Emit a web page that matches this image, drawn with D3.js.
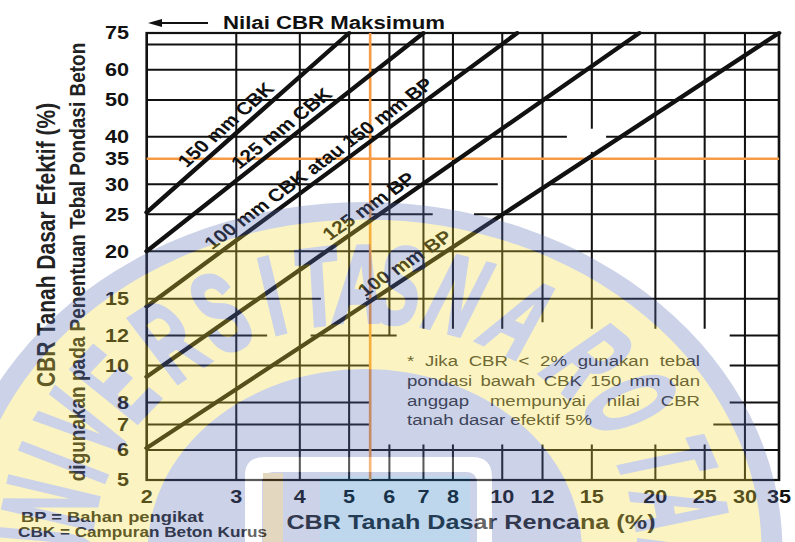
<!DOCTYPE html>
<html>
<head>
<meta charset="utf-8">
<script src="https://cdnjs.cloudflare.com/ajax/libs/d3/7.8.5/d3.min.js"></script>
<style>
  body { margin: 0; background: #fff; }
  svg { display: block; }
</style>
</head>
<body>
<div class="chart"></div>
<script>
// ---- data ----
var xTicks = [2, 3, 4, 5, 6, 7, 8, 10, 12, 15, 20, 25, 30, 35];
var yTicks = [5, 6, 7, 8, 10, 12, 15, 20, 25, 30, 35, 40, 50, 60, 75];

var lineNames = ['150 mm CBK', '125 mm CBK', '100 mm CBK atau 150 mm BP', '125 mm BP', '100 mm BP'];
var lineStart = [[2, 25.3], [2, 20], [2, 14.3], [2, 9.35], [2, 6.07]];
var lineEnd = [[5, 75], [7, 75], [10.7, 75], [18.6, 75], [35, 75]];
var labelAtCbr = [3.0, 3.85, 4.55, 5.7, 6.7];

// partial grid: [value, from, to] in data units
var gridRows = [
	[70, 2, 35], [60, 2, 35], [50, 2, 35],
	[40, 2, 13.4], [40, 16, 35],
	[30, 2, 9.8], [30, 12.4, 35],
	[25, 2, 3], [25, 5.5, 7.3], [25, 8.8, 35],
	[20, 2, 35],
	[15, 2, 4.4], [15, 5.4, 35],
	[12, 2, 3.45], [12, 4.2, 6.2], [12, 28, 35],
	[10, 2, 5.5], [10, 28, 35],
	[8, 2, 5.5], [8, 28, 35],
	[7, 2, 5.5], [7, 26, 35],
	[6, 2, 35]
];
var gridCols = [
	[3, 5, 75], [4, 5, 75], [5, 5, 75],
	[6, 12, 75], [6, 5, 6.2],
	[7, 12.5, 75], [7, 5, 6.2],
	[8, 12.5, 75], [8, 5, 6.2],
	[10, 12.5, 75], [10, 5, 6.2],
	[12, 13, 75], [12, 5, 6.2],
	[15, 42, 75], [15, 12.5, 36.5], [15, 5, 6.2],
	[20, 12.5, 75], [20, 5, 6.2],
	[25, 12.5, 75], [25, 5, 6.2],
	[30, 5, 75]
];
var designCbr = 5.5, effectiveCbr = 35;

var noteLines = [
	'* Jika CBR < 2% gunakan tebal',
	'pondasi bawah CBK 150 mm dan',
	'anggap mempunyai nilai CBR',
	'tanah dasar efektif 5%'
];
var legendLines = ['BP = Bahan pengikat', 'CBK = Campuran Beton Kurus'];
var watermarkText = 'UNIVERSITAS NAROTAMA';

// ---- drawing ----
var W = 795, H = 542, stretch = 1.2;
var ink = '#111', orange = '#f59a45', font = 'Liberation Sans, Arial, sans-serif';

var svg = d3.select('.chart').append('svg')
	.attr('width', W)
	.attr('height', H)
	.attr('font-family', font);

// the scan is stretched sideways, so draw in a squeezed frame
var g = svg.append('g').attr('transform', 'scale(' + stretch + ',1)');

var x = d3.scaleLog().domain([2, 35]).range([146.7 / stretch, 779 / stretch]);
var y = d3.scaleLog().domain([5, 75]).range([480, 33]);

// grid
g.append('g').selectAll('line').data(gridRows).join('line')
	.attr('x1', function(d) { return x(d[1]); })
	.attr('x2', function(d) { return x(d[2]); })
	.attr('y1', function(d) { return y(d[0]); })
	.attr('y2', function(d) { return y(d[0]); })
	.attr('stroke', ink).attr('stroke-width', 2);
g.append('g').selectAll('line').data(gridCols).join('line')
	.attr('x1', function(d) { return x(d[0]); })
	.attr('x2', function(d) { return x(d[0]); })
	.attr('y1', function(d) { return y(d[1]); })
	.attr('y2', function(d) { return y(d[2]); })
	.attr('stroke', ink).attr('stroke-width', 1.7);

// frame
g.append('rect')
	.attr('x', x(2)).attr('y', y(75))
	.attr('width', x(35) - x(2)).attr('height', y(5) - y(75))
	.attr('fill', 'none').attr('stroke', ink).attr('stroke-width', 2.2);

// orange guide lines
g.append('line')
	.attr('x1', x(designCbr)).attr('x2', x(designCbr))
	.attr('y1', y(75)).attr('y2', y(5))
	.attr('stroke', orange).attr('stroke-width', 2.2);
g.append('line')
	.attr('x1', x(2)).attr('x2', x(35))
	.attr('y1', y(effectiveCbr)).attr('y2', y(effectiveCbr))
	.attr('stroke', orange).attr('stroke-width', 2.6);

// design lines (straight on log-log paper)
lineNames.forEach(function(name, i) {
	var a = lineStart[i], b = lineEnd[i];
	g.append('line')
		.attr('x1', x(a[0])).attr('y1', y(a[1]))
		.attr('x2', x(b[0])).attr('y2', y(b[1]))
		.attr('stroke', ink).attr('stroke-width', 4)
		.attr('stroke-linecap', 'round');
	var k = Math.log(b[1] / a[1]) / Math.log(b[0] / a[0]);
	var cx = labelAtCbr[i], cy = a[1] * Math.pow(cx / a[0], k);
	var ang = Math.atan2(y(b[1]) - y(a[1]), x(b[0]) - x(a[0])) * 180 / Math.PI;
	g.append('text')
		.attr('transform', 'translate(' + x(cx) + ',' + y(cy) + ') rotate(' + ang + ')')
		.attr('dy', -6)
		.attr('text-anchor', 'middle')
		.attr('font-size', 17.5)
		.attr('font-weight', 'bold')
		.attr('fill', ink)
		.text(name);
});

// tick labels
g.append('g').selectAll('text').data(yTicks).join('text')
	.attr('x', 129 / stretch)
	.attr('y', function(d) { return y(d); })
	.attr('dy', '0.36em')
	.attr('text-anchor', 'end')
	.attr('font-size', 18).attr('font-weight', 'bold').attr('fill', ink)
	.text(function(d) { return d; });
g.append('g').selectAll('text').data(xTicks).join('text')
	.attr('x', function(d) { return x(d); })
	.attr('y', 503)
	.attr('text-anchor', 'middle')
	.attr('font-size', 18).attr('font-weight', 'bold').attr('fill', ink)
	.text(function(d) { return d; });

// axis titles
g.append('text')
	.attr('x', 471 / stretch).attr('y', 529)
	.attr('text-anchor', 'middle')
	.attr('font-size', 21).attr('font-weight', 'bold').attr('fill', '#222')
	.text('CBR Tanah Dasar Rencana (%)');
g.append('text')
	.attr('transform', 'translate(' + (55 / stretch) + ',245) rotate(-90)')
	.attr('text-anchor', 'middle')
	.attr('font-size', 21).attr('font-weight', 'bold').attr('fill', '#222')
	.text('CBR Tanah Dasar Efektif (%)');
g.append('text')
	.attr('transform', 'translate(' + (85 / stretch) + ',262) rotate(-90)')
	.attr('text-anchor', 'middle')
	.attr('font-size', 19).attr('font-weight', 'bold').attr('fill', '#222')
	.text('digunakan pada Penentuan Tebal Pondasi Beton');

// top note with arrow
g.append('line')
	.attr('x1', 153 / stretch).attr('x2', 208 / stretch)
	.attr('y1', 23).attr('y2', 23)
	.attr('stroke', ink).attr('stroke-width', 2.2);
g.append('path')
	.attr('d', 'M' + (148 / stretch) + ',23 l' + (14 / stretch) + ',-4 v8 z')
	.attr('fill', ink);
g.append('text')
	.attr('x', 223 / stretch).attr('y', 29)
	.attr('font-size', 18.5).attr('font-weight', 'bold').attr('fill', ink)
	.text('Nilai CBR Maksimum');

// legend
g.append('g').selectAll('text').data(legendLines).join('text')
	.attr('x', function(d, i) { return (i ? 18 : 21) / stretch; })
	.attr('y', function(d, i) { return 522 + i * 15; })
	.attr('font-size', function(d, i) { return i ? 14.3 : 15.3; })
	.attr('font-weight', 'bold').attr('fill', '#222')
	.text(function(d) { return d; });

// justified footnote
var noteLeft = 407 / stretch, noteRight = 700 / stretch;
noteLines.forEach(function(line, i) {
	var words = line.split(' ');
	var row = g.append('g');
	var texts = words.map(function(w) {
		return row.append('text')
			.attr('font-size', 15.5).attr('fill', '#333')
			.attr('y', 366 + i * 19.8)
			.text(w);
	});
	var lens = texts.map(function(t) { return t.node().getComputedTextLength(); });
	var total = d3.sum(lens);
	var last = i === noteLines.length - 1;
	var gap = last ? 4.3 : (noteRight - noteLeft - total) / (words.length - 1);
	var pos = noteLeft;
	texts.forEach(function(t, j) {
		t.attr('x', pos);
		pos += lens[j] + gap;
	});
});

// watermark seal, laid over the chart with low opacity
var wm = svg.append('g').attr('opacity', 0.3).attr('pointer-events', 'none');
var wmc = wm.append('g').attr('transform', 'scale(' + stretch + ',1)');
var cx0 = 304, cy0 = 550, R = 348, sealBlue = '#586cb2';
wmc.append('circle').attr('cx', cx0).attr('cy', cy0).attr('r', R).attr('fill', sealBlue);
wmc.append('circle').attr('cx', cx0).attr('cy', cy0).attr('r', R * 0.95).attr('fill', '#f5de37');
wmc.append('circle').attr('cx', cx0).attr('cy', cy0).attr('r', R * 0.52).attr('fill', sealBlue);
// letter angles around the seal (degrees from the top), spaces skipped
var sealAngles = [-90, -80, -71, -62, -51.7, -38.2, -27, -17.1, -8.7, -1.2, 6.2, null,
	16.8, 29.3, 44.4, 56.1, 70.1, 81, 93, 105];
watermarkText.split('').forEach(function(c, i) {
	if (c === ' ') return;
	wmc.append('text')
		.attr('transform', 'translate(' + cx0 + ',' + cy0 + ') rotate(' + sealAngles[i] + ') translate(0,' + (-R * 0.655) + ') scale(0.52,1)')
		.attr('text-anchor', 'middle')
		.attr('font-size', 110)
		.attr('font-weight', 'bold')
		.attr('font-style', 'italic')
		.attr('fill', sealBlue)
		.attr('stroke', sealBlue).attr('stroke-width', 4)
		.text(c);
});
// emblem at the bottom of the seal
wm.append('path')
	.attr('d', 'M245,545 V475 Q245,457 265,457 H472 Q492,457 492,477 V545 Z M262,545 V484 Q262,472 274,472 H466 Q477,472 477,484 V545 Z')
	.attr('fill', '#fff').attr('fill-rule', 'evenodd');
wm.append('rect').attr('x', 263).attr('y', 473).attr('width', 20).attr('height', 70).attr('fill', '#a97d33');
wm.append('rect').attr('x', 320).attr('y', 476).attr('width', 150).attr('height', 70).attr('fill', '#2a7dc7');
</script>
</body>
</html>
